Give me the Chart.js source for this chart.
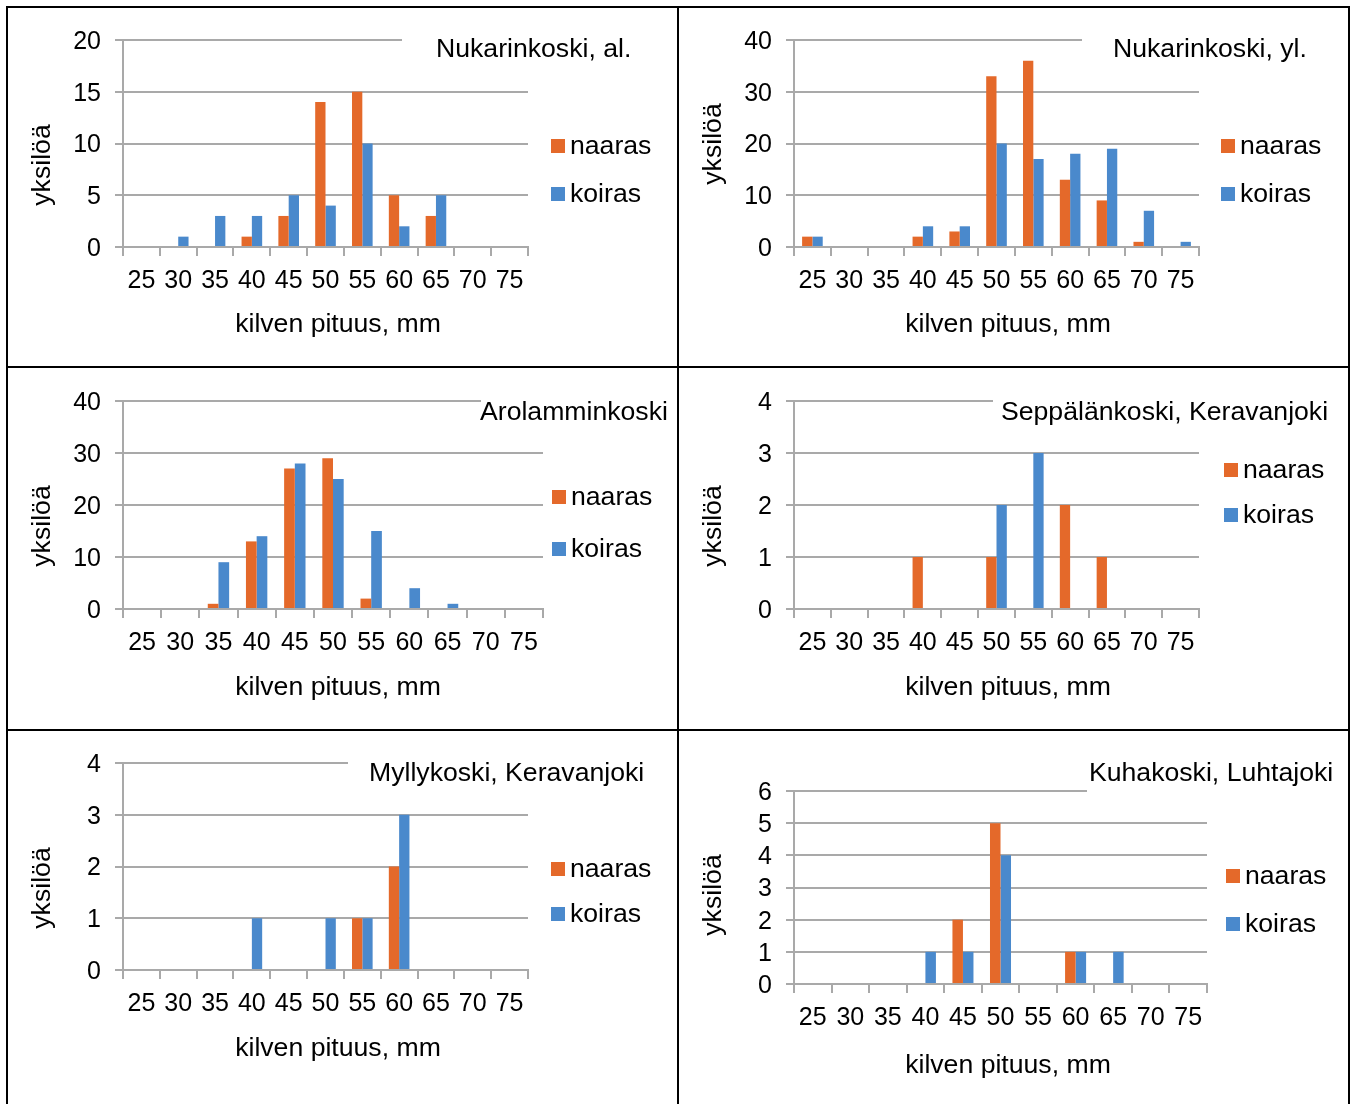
<!DOCTYPE html>
<html lang="fi">
<head>
  <meta charset="UTF-8" />
  <title>Kilven pituus</title>
  <script src="https://cdn.jsdelivr.net/npm/chart.js"></script>
  <style>
    body {
      margin: 0;
      background: #fff;
      width: 1352px;
      height: 1104px;
      overflow: hidden;
      position: relative;
    }
    .line {
      position: absolute;
      background: #000;
    }
    canvas {
      position: absolute;
    }
  </style>
</head>
<body>
  <div class="line" style="left:6px;top:6px;width:1344px;height:2px"></div>
  <div class="line" style="left:6px;top:366px;width:1344px;height:2px"></div>
  <div class="line" style="left:6px;top:729px;width:1344px;height:2px"></div>
  <div class="line" style="left:6px;top:6px;width:2px;height:1098px"></div>
  <div class="line" style="left:677px;top:6px;width:2px;height:1098px"></div>
  <div class="line" style="left:1348px;top:6px;width:2px;height:1098px"></div>

  <canvas id="c1"></canvas>
  <canvas id="c2"></canvas>
  <canvas id="c3"></canvas>
  <canvas id="c4"></canvas>
  <canvas id="c5"></canvas>
  <canvas id="c6"></canvas>

  <script>
    // length classes (mm)
    const lengthBins = ["25", "30", "35", "40", "45", "50", "55", "60", "65", "70", "75"];
    const seriesNames = ["naaras", "koiras"];

    const nukarinAlNaaras = [0, 0, 0, 1, 3, 14, 15, 5, 3, 0, 0];
    const nukarinAlKoiras = [0, 1, 3, 3, 5, 4, 10, 2, 5, 0, 0];

    const nukarinYlNaaras = [2, 0, 0, 2, 3, 33, 36, 13, 9, 1, 0];
    const nukarinYlKoiras = [2, 0, 0, 4, 4, 20, 17, 18, 19, 7, 1];

    const arolammiNaaras = [0, 0, 1, 13, 27, 29, 2, 0, 0, 0, 0];
    const arolammiKoiras = [0, 0, 9, 14, 28, 25, 15, 4, 1, 0, 0];

    const seppalaNaaras = [0, 0, 0, 1, 0, 1, 0, 2, 1, 0, 0];
    const seppalaKoiras = [0, 0, 0, 0, 0, 2, 3, 0, 0, 0, 0];

    const myllyNaaras = [0, 0, 0, 0, 0, 0, 1, 2, 0, 0, 0];
    const myllyKoiras = [0, 0, 0, 1, 0, 1, 1, 3, 0, 0, 0];

    const kuhaNaaras = [0, 0, 0, 0, 2, 5, 0, 1, 0, 0, 0];
    const kuhaKoiras = [0, 0, 0, 1, 1, 4, 0, 1, 1, 0, 0];

    const ORANGE = "#E4692A";
    const BLUE = "#4A89CC";
    const GRID = "#A9A9A9";
    const FONT = "'Liberation Sans', Arial, sans-serif";
    const FS = 25;
    const STRETCH = 1.065; // source text is a bit wider than Arial

    // page coordinates of each panel
    const panels = [
      { id: "c1", title: "Nukarinkoski, al.", naaras: nukarinAlNaaras, koiras: nukarinAlKoiras,
        cell: [8, 8, 677, 366], plot: [123, 40, 528, 247], yMax: 20, step: 5,
        titleAt: [436, 48], maskX: 402, legendAt: [551, 146, 194], yTitleAt: [42, 165], xTitleAt: [338, 323] },
      { id: "c2", title: "Nukarinkoski, yl.", naaras: nukarinYlNaaras, koiras: nukarinYlKoiras,
        cell: [679, 8, 1348, 366], plot: [794, 40, 1199, 247], yMax: 40, step: 10,
        titleAt: [1113, 48], maskX: 1082, legendAt: [1221, 146, 194], yTitleAt: [713, 144], xTitleAt: [1008, 323] },
      { id: "c3", title: "Arolamminkoski", naaras: arolammiNaaras, koiras: arolammiKoiras,
        cell: [8, 368, 677, 729], plot: [123, 401, 543, 609], yMax: 40, step: 10,
        titleAt: [480, 411], maskX: 481, legendAt: [552, 497, 549], yTitleAt: [42, 526], xTitleAt: [338, 686] },
      { id: "c4", title: "Seppälänkoski, Keravanjoki", naaras: seppalaNaaras, koiras: seppalaKoiras,
        cell: [679, 368, 1348, 729], plot: [794, 401, 1199, 609], yMax: 4, step: 1,
        titleAt: [1001, 411], maskX: 993, legendAt: [1224, 470, 515], yTitleAt: [713, 526], xTitleAt: [1008, 686] },
      { id: "c5", title: "Myllykoski, Keravanjoki", naaras: myllyNaaras, koiras: myllyKoiras,
        cell: [8, 731, 677, 1104], plot: [123, 763, 528, 970], yMax: 4, step: 1,
        titleAt: [369, 772], maskX: 348, legendAt: [551, 869, 914], yTitleAt: [42, 888], xTitleAt: [338, 1047] },
      { id: "c6", title: "Kuhakoski, Luhtajoki", naaras: kuhaNaaras, koiras: kuhaKoiras,
        cell: [679, 731, 1348, 1104], plot: [794, 791, 1207, 984], yMax: 6, step: 1,
        titleAt: [1089, 772], maskX: 1087, legendAt: [1226, 876, 924], yTitleAt: [713, 895], xTitleAt: [1008, 1064] }
    ];

    function wideText(ctx, text, x, y) {
      ctx.save();
      ctx.translate(x, y);
      ctx.scale(STRETCH, 1);
      ctx.fillText(text, 0, 0);
      ctx.restore();
    }

    const decor = {
      id: "decor",
      afterDraw(chart, args, p) {
        const ctx = chart.ctx;
        const ox = p.cell[0], oy = p.cell[1] - 2; // -2: glyph centre sits a bit high
        ctx.save();
        ctx.font = FS + "px " + FONT;
        ctx.textBaseline = "middle";

        // title sits on a white box that hides the end of the top gridline
        ctx.fillStyle = "#fff";
        const top = Math.min(p.titleAt[1] - 15, p.plot[1] - 3);
        const bottom = Math.max(p.titleAt[1] + 15, p.plot[1] + 3);
        ctx.fillRect(p.maskX - ox, top - p.cell[1], p.cell[2] - p.maskX, bottom - top);
        ctx.fillStyle = "#000";
        ctx.textAlign = "left";
        wideText(ctx, p.title, p.titleAt[0] - ox, p.titleAt[1] - oy);

        // legend
        chart.data.datasets.forEach((ds, i) => {
          const y = p.legendAt[1 + i] - p.cell[1];
          ctx.fillStyle = ds.backgroundColor;
          ctx.fillRect(p.legendAt[0] - ox, y - 7, 14, 14);
          ctx.fillStyle = "#000";
          wideText(ctx, ds.label, p.legendAt[0] - ox + 19, y + 1);
        });

        // axis titles
        ctx.textAlign = "center";
        wideText(ctx, "kilven pituus, mm", p.xTitleAt[0] - ox, p.xTitleAt[1] - oy);
        ctx.translate(p.yTitleAt[0] - ox + 1, p.yTitleAt[1] - p.cell[1]);
        ctx.rotate(-Math.PI / 2);
        ctx.scale(STRETCH, 1);
        ctx.fillText("yksilöä", 0, 0);
        ctx.restore();
      }
    };

    panels.forEach(p => {
      const canvas = document.getElementById(p.id);
      const w = p.cell[2] - p.cell[0];
      const h = p.cell[3] - p.cell[1];
      canvas.width = w;
      canvas.height = h;
      canvas.style.left = p.cell[0] + "px";
      canvas.style.top = p.cell[1] + "px";
      canvas.style.width = w + "px";
      canvas.style.height = h + "px";

      const yWidth = p.plot[0] - p.cell[0];
      const xHeight = p.cell[3] - p.plot[3];

      new Chart(canvas.getContext("2d"), {
        type: "bar",
        data: {
          labels: lengthBins,
          datasets: [
            { label: seriesNames[0], data: p.naaras, backgroundColor: ORANGE },
            { label: seriesNames[1], data: p.koiras, backgroundColor: BLUE }
          ]
        },
        options: {
          responsive: false,
          animation: false,
          devicePixelRatio: 1,
          datasets: {
            bar: { categoryPercentage: 0.56, barPercentage: 1.0, borderWidth: 0 }
          },
          layout: {
            padding: { left: 0, top: p.plot[1] - p.cell[1], right: p.cell[2] - p.plot[2], bottom: 0 }
          },
          plugins: {
            legend: { display: false },
            tooltip: { enabled: false },
            decor: p
          },
          scales: {
            x: {
              grid: { offset: true, drawOnChartArea: false, tickLength: 9, color: GRID, lineWidth: 2 },
              border: { color: GRID, width: 2 },
              ticks: { font: { family: FONT, size: FS }, color: "#000", padding: 10, maxRotation: 0, autoSkip: false },
              afterFit: s => { s.height = xHeight; }
            },
            y: {
              min: 0,
              max: p.yMax,
              grid: { color: GRID, lineWidth: 2, tickLength: 8 },
              border: { color: GRID, width: 2 },
              ticks: { stepSize: p.step, autoSkip: false, labelOffset: 2, font: { family: FONT, size: FS }, color: "#000", padding: 14 },
              afterFit: s => { s.width = yWidth; }
            }
          }
        },
        plugins: [decor]
      });
    });
  </script>
</body>
</html>
